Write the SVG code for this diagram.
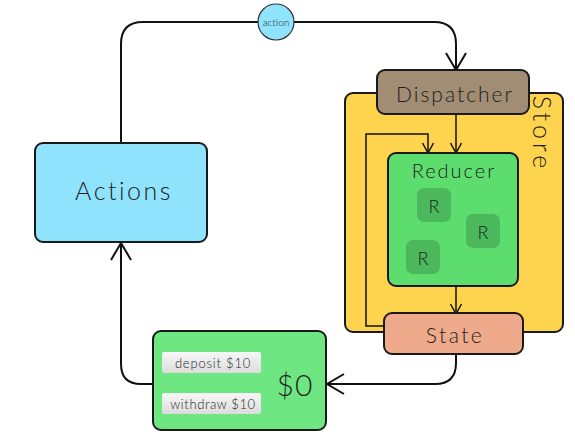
<svg xmlns="http://www.w3.org/2000/svg" width="575" height="438" viewBox="0 0 575 438">
<defs>
<style>
.box{stroke:#1a1a1a;stroke-width:2}
.t{font-family:Lato,"Noto Sans",sans-serif;font-weight:300;fill:#1e1e1e;text-anchor:middle;dominant-baseline:central}
.ln{fill:none;stroke:#111;stroke-width:2}
.ln1{fill:none;stroke:#111;stroke-width:1.5}
</style>
<marker id="big" viewBox="0 0 24 24" markerWidth="24" markerHeight="24" refX="20" refY="12" orient="auto" markerUnits="userSpaceOnUse">
<path d="M3,2 L20,12 L3,22" fill="none" stroke="#111" stroke-width="2"/>
</marker>
<marker id="small" viewBox="0 0 14 14" markerWidth="14" markerHeight="14" refX="12" refY="7" orient="auto" markerUnits="userSpaceOnUse">
<path d="M2,1.5 L12,7 L2,12.5" fill="none" stroke="#111" stroke-width="1.5"/>
</marker>
<linearGradient id="btn" x1="0" y1="0" x2="0" y2="1">
<stop offset="0" stop-color="#f7f7f7"/>
<stop offset="1" stop-color="#dcdcdc"/>
</linearGradient>
</defs>
<rect width="575" height="438" fill="#fff"/>
<g id="store">
<rect class="box" x="345" y="93" width="218" height="239" rx="8" fill="#fed34e"/>
<text class="t" x="543" y="134" font-size="25" letter-spacing="4" transform="rotate(90 543 134)">Store</text>
</g>
<g id="connectors">
<path class="ln" d="M121,143 V44 Q121,22 143,22 H434 Q456,22 456,44 V70" marker-end="url(#big)"/>
<path class="ln1" d="M456,114 V153" marker-end="url(#small)"/>
<path class="ln1" d="M385,326 H366 V134 H428 V153" marker-end="url(#small)"/>
<path class="ln1" d="M456,286 V314" marker-end="url(#small)"/>
<path class="ln" d="M456,354 V363 Q456,384 435,384 H327" marker-end="url(#big)"/>
<path class="ln" d="M153,384 H141 Q121,384 121,364 V243" marker-end="url(#big)"/>
</g>
<g id="action-token">
<circle cx="276" cy="22" r="18" fill="#8fe3fd" stroke="#333" stroke-width="1.2"/>
<text class="t" x="276" y="22" font-size="10" fill="#333">action</text>
</g>
<g id="dispatcher">
<rect class="box" x="377" y="70" width="152" height="44" rx="8" fill="#a08d73"/>
<text class="t" x="455" y="93" font-size="21" letter-spacing="2">Dispatcher</text>
</g>
<g id="reducer">
<rect class="box" x="388" y="153" width="130" height="133" rx="8" fill="#5edd6f"/>
<text class="t" x="454" y="170" font-size="20" letter-spacing="2">Reducer</text>
<rect x="417" y="188" width="34" height="34" rx="7" fill="#4bb95b"/>
<text class="t" x="434" y="206" font-size="18">R</text>
<rect x="466" y="214" width="34" height="34" rx="7" fill="#4bb95b"/>
<text class="t" x="483" y="232" font-size="18">R</text>
<rect x="406" y="240" width="34" height="34" rx="7" fill="#4bb95b"/>
<text class="t" x="423" y="258" font-size="18">R</text>
</g>
<g id="state">
<rect class="box" x="384" y="313" width="139" height="41" rx="8" fill="#efa98b"/>
<text class="t" x="455" y="334" font-size="21" letter-spacing="2.5">State</text>
</g>
<g id="actions">
<rect class="box" x="35" y="143" width="172" height="99" rx="8" fill="#8fe3fd"/>
<text class="t" x="124" y="190" font-size="25" letter-spacing="2.5">Actions</text>
</g>
<g id="view">
<rect class="box" x="153" y="331" width="173" height="99" rx="8" fill="#6ee681"/>
<rect x="162" y="352" width="99" height="21" rx="2" fill="url(#btn)"/>
<text class="t" x="213" y="363" font-size="13" letter-spacing="0.8" fill="#444">deposit $10</text>
<rect x="162" y="393" width="99" height="21" rx="2" fill="url(#btn)"/>
<text class="t" x="213" y="404" font-size="13" letter-spacing="0.6" fill="#444">withdraw $10</text>
<text class="t" x="295" y="384" font-size="30" letter-spacing="1">$0</text>
</g>
</svg>
